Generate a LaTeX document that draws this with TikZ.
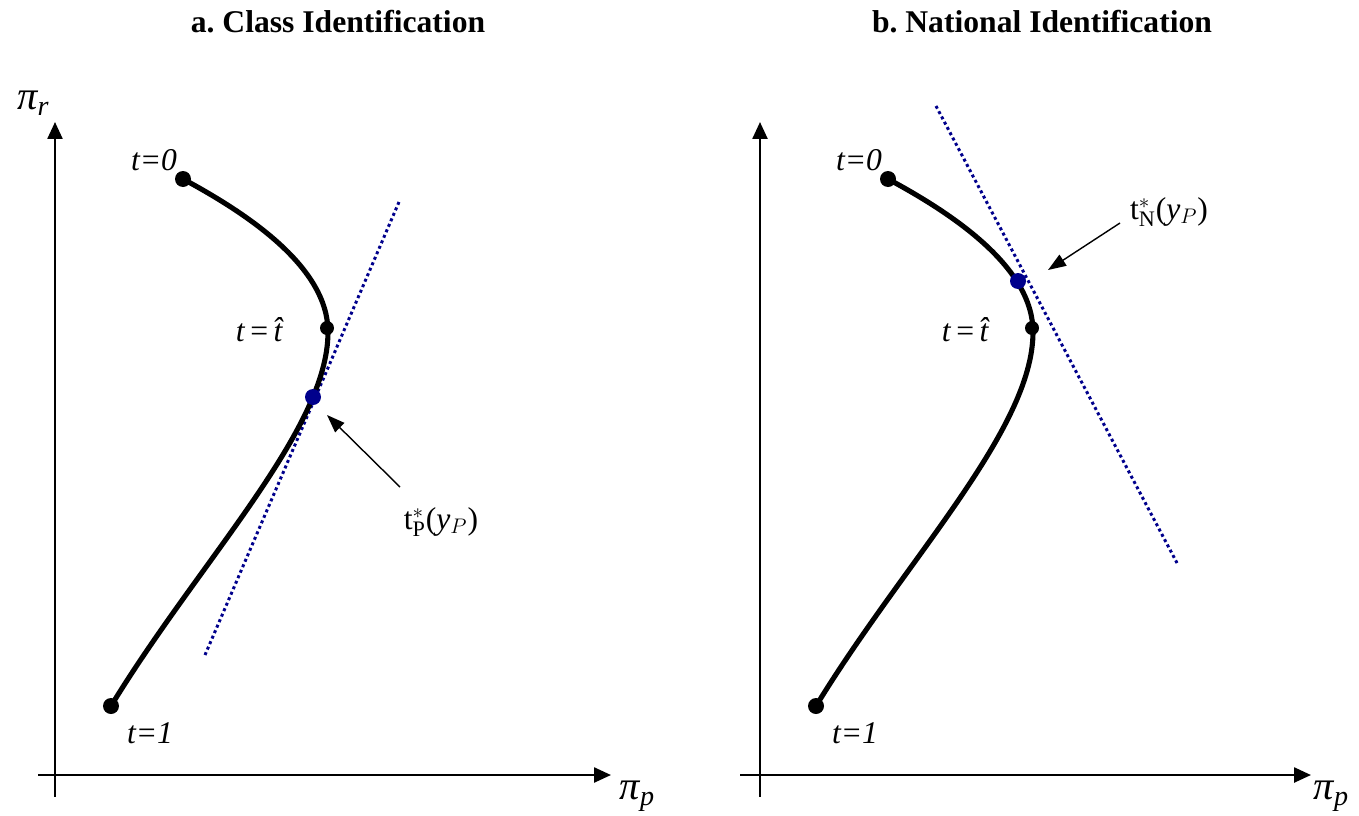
\documentclass[tikz,border=0pt]{standalone}
\usepackage{fontspec}
\setmainfont{Liberation Serif}
\usepackage{tikz}
\usetikzlibrary{arrows.meta,positioning}

\definecolor{tangentblue}{RGB}{0,0,140}
\newcommand{\axislabel}[2]{{\fontsize{23}{25}\selectfont\itshape #1}\raisebox{-0.45ex}{\fontsize{16}{18}\selectfont\itshape #2}}

\begin{document}
\begin{tikzpicture}[
  x=0.02cm, y=-0.02cm,
  font=\fontsize{18}{21}\selectfont,
  axis/.style={line width=1.4pt,-{Triangle[length=0.34cm,width=0.3cm]}},
  path curve/.style={line width=2.9pt,line cap=round},
  tangent/.style={draw=tangentblue,line width=1.7pt,dash pattern=on 1.7pt off 1.7pt},
  end dot/.style={circle,fill=black,inner sep=0pt,minimum size=0.32cm},
  turn dot/.style={circle,fill=black,inner sep=0pt,minimum size=0.28cm},
  opt dot/.style={circle,fill=tangentblue,inner sep=0pt,minimum size=0.32cm},
  panel title/.style={font=\fontsize{18}{21}\selectfont\bfseries},
  pointer/.style={line width=0.8pt,-{Triangle[length=0.36cm,width=0.26cm]}}
]
  \useasboundingbox (0,0) rectangle (1359,815);

  % panel a
  \node[panel title] (title-a) at (338,22) {a.\ Class Identification};
  \coordinate (origin-a) at (55,775);
  \coordinate (ytop-a) at (55,122);
  \coordinate (ybot-a) at (55,797);
  \coordinate (xleft-a) at (38,775);
  \coordinate (xright-a) at (611,775);
  \draw[line width=1.4pt] (origin-a)--(ybot-a);
  \draw[line width=1.4pt] (xleft-a)--(origin-a);
  \draw[axis] (origin-a)--(ytop-a);
  \draw[axis] (origin-a)--(xright-a);
  \node (pir-a) at (33,103) {\axislabel{π}{r}};
  \node (pip-a) at (637,796) {\axislabel{π}{p}};

  \coordinate (tan-a-start) at (205,655);
  \coordinate (tan-a-end) at (399,202);
  \draw[tangent] (tan-a-start)--(tan-a-end);

  \node[end dot] (start-a) at (183,179) {};
  \node[turn dot] (turn-a) at (327,328) {};
  \node[end dot] (end-a) at (111,706) {};
  \draw[path curve] (start-a.center) .. controls (250,215) and (328,268) .. (328,332)
    .. controls (328,430) and (200,560) .. (end-a.center);
  \node[opt dot] (opt-a) at (313,397) {};

  \node (t0-a) at (154,160) {\textit{t=0}};
  \node (that-a) at (265,330) {\textit{t}\,=\,\textit{\^t}};
  \node (t1-a) at (150,733) {\textit{t=1}};
  \node (lab-a) at (441,522) {t$^{*}_{\mathrm{P}}$(\textit{y}$_{P}$)};
  \coordinate (tip-a) at (327,415);
  \draw[pointer] (400,487) coordinate (tail-a)--(tip-a);

  % panel b
  \node[panel title] (title-b) at (1042,22) {b.\ National Identification};
  \coordinate (origin-b) at (760,775);
  \coordinate (ytop-b) at (760,122);
  \coordinate (ybot-b) at (760,797);
  \coordinate (xleft-b) at (740,775);
  \coordinate (xright-b) at (1311,775);
  \draw[line width=1.4pt] (origin-b)--(ybot-b);
  \draw[line width=1.4pt] (xleft-b)--(origin-b);
  \draw[axis] (origin-b)--(ytop-b);
  \draw[axis] (origin-b)--(xright-b);
  \node (pip-b) at (1331,796) {\axislabel{π}{p}};

  \coordinate (tan-b-start) at (936,106);
  \coordinate (tan-b-end) at (1177,563);
  \draw[tangent] (tan-b-start)--(tan-b-end);

  \node[end dot] (start-b) at (888,179) {};
  \node[turn dot] (turn-b) at (1032,328) {};
  \node[end dot] (end-b) at (816,706) {};
  \draw[path curve] (start-b.center) .. controls (955,215) and (1033,268) .. (1033,332)
    .. controls (1033,430) and (905,560) .. (end-b.center);
  \node[opt dot] (opt-b) at (1018,281) {};

  \node (t0-b) at (859,160) {\textit{t=0}};
  \node (that-b) at (971,330) {\textit{t}\,=\,\textit{\^t}};
  \node (t1-b) at (855,733) {\textit{t=1}};
  \node (lab-b) at (1169,212) {t$^{*}_{\mathrm{N}}$(\textit{y}$_{P}$)};
  \coordinate (tip-b) at (1048,270);
  \draw[pointer] (1120,223) coordinate (tail-b)--(tip-b);
\end{tikzpicture}
\end{document}
